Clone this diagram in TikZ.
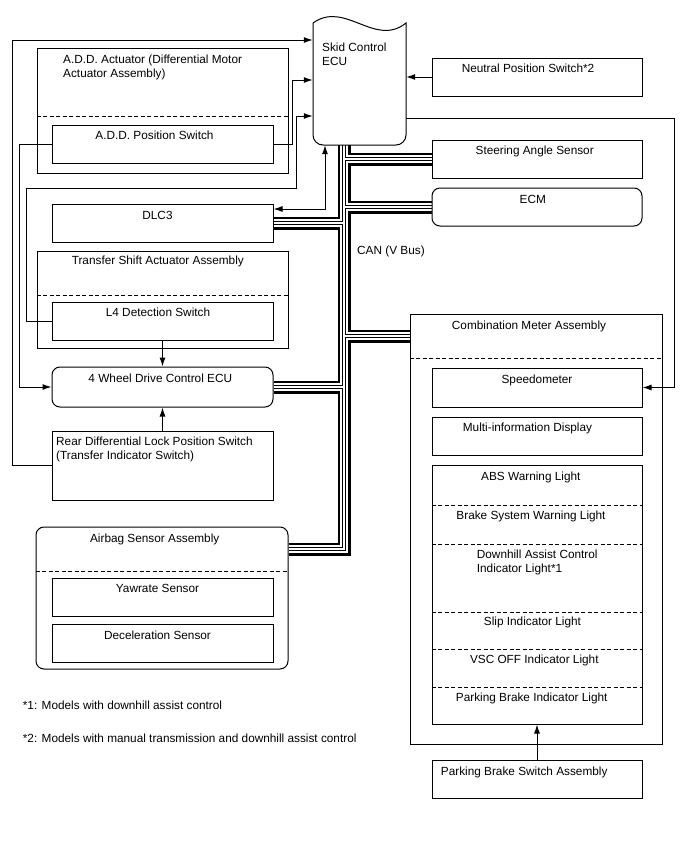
\documentclass[tikz,border=0pt]{standalone}
\usepackage{fontspec}
\setmainfont{Liberation Sans}
\usetikzlibrary{arrows.meta,fit,backgrounds}
\newcommand\canbuspaths[1]{%
  \draw[#1] (ecu.south -| 344,0) -- (344,549) -- (airbag.east |- 0,549);
  \draw[#1] (sas.west -| 344,0) -- (sas.west);
  \draw[#1] (ecm.west -| 344,0) -- (ecm.west);
  \draw[#1] (344,336) -- (comb.west |- 0,336);
  \draw[#1] (dlc.east -| 344,0) -- (dlc.east);
  \draw[#1] (fwd.east -| 344,0) -- (fwd.east);
}
\begin{document}
\begin{tikzpicture}[x=1pt,y=-1pt,
  box/.style={draw,line width=1pt,inner sep=0pt},
  rbox/.style={box,rounded corners=8pt},
  lbl/.style={inner sep=0pt,font=\fontsize{11.8}{14}\selectfont},
  conn/.style={line width=1pt},
  arr/.style={conn,-{Latex[length=9pt,width=6pt]}},
  arrb/.style={conn,{Latex[length=9pt,width=6pt]}-{Latex[length=9pt,width=6pt]}},
  sepline/.style={line width=1pt,dash pattern=on 4pt off 2.5pt},
  busblack/.style={line join=miter,line cap=butt,draw=black},
  buswhite/.style={line join=miter,line cap=butt,draw=white}]
\useasboundingbox (0,0) rectangle (688,852);

% ---------- boxes ----------
\node[box, fit={(37,48) (288,173)}] (add) {};
\node[box, fit={(52,125) (273,163)}] (aps) {};
\node[draw=none, inner sep=0pt, fit={(313,23) (406,145)}] (ecu) {};
\draw[line width=1pt] (313,23) .. controls (345,0) and (375,48) .. (406,23)
  -- (406,135) .. controls (406,140.5) and (401.5,145) .. (396,145)
  -- (323,145) .. controls (317.5,145) and (313,140.5) .. (313,135) -- cycle;
\node[box, fit={(432,58) (642,96)}] (nps) {};
\node[box, fit={(432,140) (642,178)}] (sas) {};
\node[rbox, fit={(432,188) (642,226)}] (ecm) {};
\node[box, fit={(52,204) (273,242)}] (dlc) {};
\node[box, fit={(37,251) (288,348)}] (tsa) {};
\node[box, fit={(52,302) (273,340)}] (l4) {};
\node[rbox, fit={(52,367) (273,407)}] (fwd) {};
\node[box, fit={(52,431) (273,500)}] (rdl) {};
\node[rbox, fit={(36,527) (288,669)}] (airbag) {};
\node[box, fit={(52,578) (273,616)}] (yaw) {};
\node[box, fit={(52,624) (273,662)}] (dec) {};
\node[box, fit={(410,314) (662,744)}] (comb) {};
\node[box, fit={(432,368) (642,407)}] (spd) {};
\node[box, fit={(432,417) (642,455)}] (mid) {};
\node[box, fit={(432,465) (642,724)}] (lights) {};
\node[box, fit={(432,760) (642,798)}] (pbs) {};

% ---------- dashed separators ----------
\draw[sepline] (add.west |- 0,116) -- (add.east |- 0,116);
\draw[sepline] (tsa.west |- 0,295) -- (tsa.east |- 0,295);
\draw[sepline] (airbag.west |- 0,571) -- (airbag.east |- 0,571);
\draw[sepline] (comb.west |- 0,358) -- (comb.east |- 0,358);
\foreach \yy in {505,544,612,649,687}
  \draw[sepline] (lights.west |- 0,\yy) -- (lights.east |- 0,\yy);

% ---------- texts ----------
\node[lbl, anchor=base west] (t1) at (63,63.5) {A.D.D. Actuator (Differential Motor};
\node[lbl, anchor=base west] (t2) at (63,77.5) {Actuator Assembly)};
\node[lbl, anchor=base] (t3) at (154.5,139) {A.D.D. Position Switch};
\node[lbl, anchor=base west] (t4) at (322,51) {Skid Control};
\node[lbl, anchor=base west] (t5) at (322,65) {ECU};
\node[lbl, anchor=base] (t6) at (528,72.7) {Neutral Position Switch*2};
\node[lbl, anchor=base] (t7) at (534.7,154.7) {Steering Angle Sensor};
\node[lbl, anchor=base] (t8) at (532.8,203.3) {ECM};
\node[lbl, anchor=base] (t9) at (157.5,219.3) {DLC3};
\node[lbl, anchor=base] (t10) at (157.8,264) {Transfer Shift Actuator Assembly};
\node[lbl, anchor=base] (t11) at (158,316) {L4 Detection Switch};
\node[lbl, anchor=base] (t12) at (160.3,382.3) {4 Wheel Drive Control ECU};
\node[lbl, anchor=base west] (t13) at (56,445) {Rear Differential Lock Position Switch};
\node[lbl, anchor=base west] (t14) at (56,459) {(Transfer Indicator Switch)};
\node[lbl, anchor=base west] (t15) at (357,254) {CAN (V Bus)};
\node[lbl, anchor=base] (t16) at (529,329.3) {Combination Meter Assembly};
\node[lbl, anchor=base] (t17) at (537,383.3) {Speedometer};
\node[lbl, anchor=base] (t18) at (527.5,431.7) {Multi-information Display};
\node[lbl, anchor=base] (t19) at (530.8,480) {ABS Warning Light};
\node[lbl, anchor=base] (t20) at (531,519) {Brake System Warning Light};
\node[lbl, anchor=base west] (t21) at (476.7,558.3) {Downhill Assist Control};
\node[lbl, anchor=base west] (t22) at (476.7,572.3) {Indicator Light*1};
\node[lbl, anchor=base] (t23) at (532.5,625.7) {Slip Indicator Light};
\node[lbl, anchor=base] (t24) at (534.3,663.3) {VSC OFF Indicator Light};
\node[lbl, anchor=base] (t25) at (531.7,701.3) {Parking Brake Indicator Light};
\node[lbl, anchor=base west] (t26) at (440.7,775.7) {Parking Brake Switch Assembly};
\node[lbl, anchor=base] (t27) at (154.7,542.7) {Airbag Sensor Assembly};
\node[lbl, anchor=base] (t28) at (157.5,592.3) {Yawrate Sensor};
\node[lbl, anchor=base] (t29) at (157.5,639.3) {Deceleration Sensor};
\node[lbl, anchor=base west] (t30) at (22.7,709.3) {*1: Models with downhill assist control};
\node[lbl, anchor=base west] (t31) at (22.7,742.7) {*2: Models with manual transmission and downhill assist control};

% ---------- CAN bus (under the boxes) ----------
\begin{pgfonlayer}{background}
  \canbuspaths{busblack,line width=13pt}
  \canbuspaths{buswhite,line width=7.5pt}
  \canbuspaths{busblack,line width=4.5pt}
  \canbuspaths{buswhite,line width=2pt}
\end{pgfonlayer}

% ---------- connectors ----------
\draw[arr] (rdl.west) -- ++(-39,0) |- (ecu.west |- 0,40);
\draw[arr] (aps.east) -- ++(19,0) |- (ecu.west |- 0,80);
\draw[arr] (l4.west) -| (26,188) -| (296,116) -- (ecu.west |- 0,116);
\draw[arr] (aps.west) -- ++(-32,0) |- (fwd.west);
\draw[arrb] (dlc.east |- 0,209) -| (ecu.south -| 325,0);
\draw[arr] (nps.west) -- (ecu.east |- nps.west);
\draw[arr] (ecu.east |- 0,118) -- (674,118) |- (spd.east);
\draw[arr] (l4.south) -- (fwd.north);
\draw[arr] (rdl.north) -- (fwd.south);
\draw[arr] (pbs.north) -- (lights.south);
\end{tikzpicture}
\end{document}
